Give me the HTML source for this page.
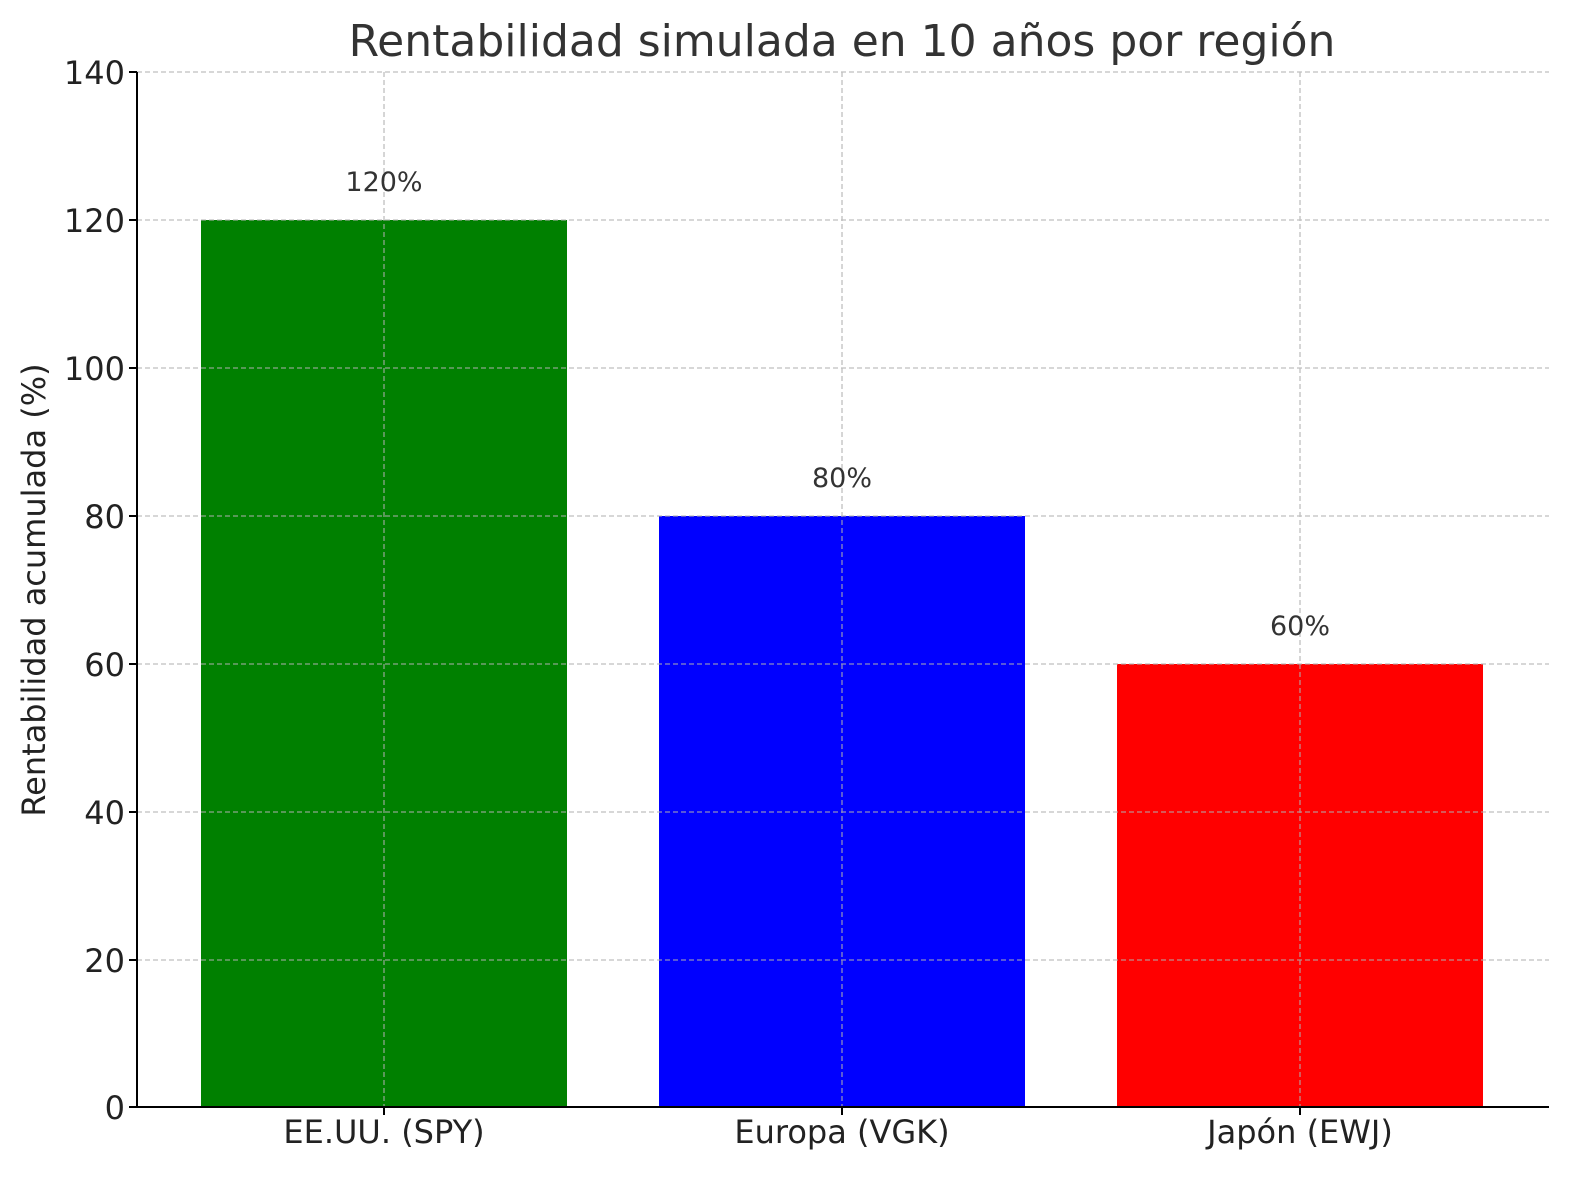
<!DOCTYPE html>
<html><head><meta charset="utf-8"><style>body{margin:0;background:#fff}</style></head><body>
<svg width="1580" height="1180" xmlns="http://www.w3.org/2000/svg" font-family="DejaVu Sans, Liberation Sans, sans-serif">
<rect width="1580" height="1180" fill="#fff"/>
<rect x="201" y="220" width="366" height="887" fill="#008000"/>
<rect x="659" y="516" width="366" height="591" fill="#0000ff"/>
<rect x="1117" y="664" width="366" height="443" fill="#ff0000"/>
<g stroke="#b0b0b0" stroke-width="1.3" stroke-dasharray="5,3" opacity="0.8">
<line x1="137" x2="1549" y1="72" y2="72"/><line x1="137" x2="1549" y1="220" y2="220"/>
<line x1="137" x2="1549" y1="368" y2="368"/><line x1="137" x2="1549" y1="516" y2="516"/>
<line x1="137" x2="1549" y1="664" y2="664"/><line x1="137" x2="1549" y1="812" y2="812"/>
<line x1="137" x2="1549" y1="960" y2="960"/>
<line x1="384" x2="384" y1="72" y2="1107"/><line x1="842" x2="842" y1="72" y2="1107"/><line x1="1300" x2="1300" y1="72" y2="1107"/>
</g>
<g stroke="#000" stroke-width="2">
<line x1="137" y1="72" x2="137" y2="1108"/><line x1="136" y1="1107" x2="1549" y2="1107"/>
<line x1="129" x2="137" y1="72" y2="72"/><line x1="129" x2="137" y1="220" y2="220"/><line x1="129" x2="137" y1="368" y2="368"/><line x1="129" x2="137" y1="516" y2="516"/><line x1="129" x2="137" y1="664" y2="664"/><line x1="129" x2="137" y1="812" y2="812"/><line x1="129" x2="137" y1="960" y2="960"/><line x1="129" x2="137" y1="1107" y2="1107"/>
<line x1="384" x2="384" y1="1107" y2="1115"/><line x1="842" x2="842" y1="1107" y2="1115"/><line x1="1300" x2="1300" y1="1107" y2="1115"/>
</g>
<g font-size="32" fill="#222" text-anchor="end">
<text x="125" y="84">140</text><text x="125" y="232">120</text><text x="125" y="380">100</text><text x="125" y="528">80</text><text x="125" y="676">60</text><text x="125" y="824">40</text><text x="125" y="972">20</text><text x="125" y="1119">0</text>
</g>
<g font-size="32" fill="#222" text-anchor="middle">
<text x="384" y="1143">EE.UU. (SPY)</text><text x="842" y="1143">Europa (VGK)</text><text x="1300" y="1143">Japón (EWJ)</text>
</g>
<g font-size="27" fill="#333" text-anchor="middle">
<text x="384" y="191">120%</text><text x="842" y="487">80%</text><text x="1300" y="635">60%</text>
</g>
<text x="842" y="56" font-size="44" fill="#333" text-anchor="middle">Rentabilidad simulada en 10 años por región</text>
<text transform="translate(45,590) rotate(-90)" font-size="32" fill="#222" text-anchor="middle">Rentabilidad acumulada (%)</text>
</svg>
</body></html>
